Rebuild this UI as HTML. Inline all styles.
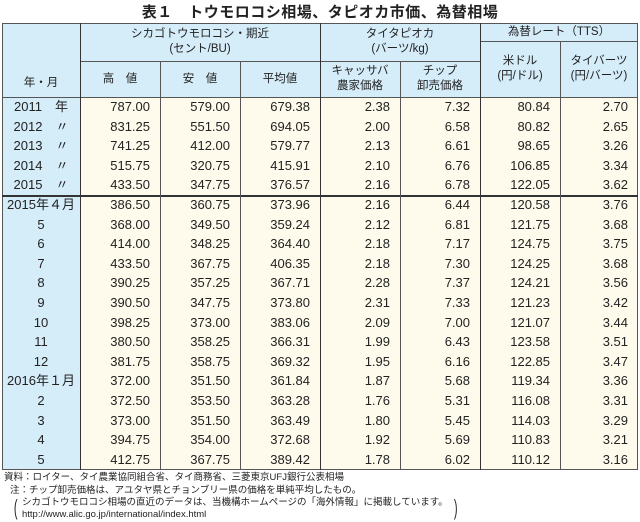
<!DOCTYPE html>
<html><head><meta charset="utf-8">
<style>
body{margin:0;width:640px;height:522px;background:#fff;position:relative;overflow:hidden;font-family:"Liberation Sans","Noto Sans CJK JP",sans-serif;color:#222}
.title{position:absolute;top:1px;left:0;width:640px;text-align:center;font-size:15px;font-weight:bold;letter-spacing:0.5px}
.a{position:absolute;box-sizing:border-box}
.hd{background:#d5ecf9;font-size:11.5px;line-height:15px;text-align:center;display:flex;align-items:center;justify-content:center;flex-direction:column}
.bd{background:#fffbec}
.ln{position:absolute;background:#555}
.c{position:absolute;font-size:13px;line-height:19.6px;height:19.6px;white-space:nowrap}
.foot{position:absolute;left:4px;font-size:9.5px;line-height:12px;white-space:nowrap}
</style></head><body>
<div class="title">表１　トウモロコシ相場、タピオカ市価、為替相場</div>
<div id="tbl">
<div class="a hd" style="left:2px;top:23px;width:636px;height:74px"></div>
<div class="a bd" style="left:80px;top:97px;width:558px;height:373px"></div>
<div class="a hd" style="left:2px;top:97px;width:78px;height:373px"></div>
<div class="a hd" style="left:2px;top:61px;width:78px;height:36px;justify-content:flex-end;padding-bottom:6px">年・月</div>
<div class="a hd" style="left:80px;top:23px;width:240px;height:38px">シカゴトウモロコシ・期近<br>(セント/BU)</div>
<div class="a hd" style="left:320px;top:23px;width:160px;height:38px">タイタピオカ<br>(バーツ/kg)</div>
<div class="a hd" style="left:480px;top:23px;width:158px;height:18px">為替レート（TTS）</div>
<div class="a hd" style="left:80px;top:61px;width:80px;height:36px">高　値</div>
<div class="a hd" style="left:160px;top:61px;width:80px;height:36px">安　値</div>
<div class="a hd" style="left:240px;top:61px;width:80px;height:36px">平均値</div>
<div class="a hd" style="left:320px;top:61px;width:80px;height:36px">キャッサバ<br>農家価格</div>
<div class="a hd" style="left:400px;top:61px;width:80px;height:36px">チップ<br>卸売価格</div>
<div class="a hd" style="left:480px;top:41px;width:80px;height:56px">米ドル<br>(円/ドル)</div>
<div class="a hd" style="left:560px;top:41px;width:78px;height:56px">タイバーツ<br>(円/バーツ)</div>
<!-- lines -->
<div class="ln" style="left:2px;top:23px;width:636px;height:1px"></div>
<div class="ln" style="left:2px;top:469px;width:636px;height:1px"></div>
<div class="ln" style="left:2px;top:23px;width:1px;height:447px"></div>
<div class="ln" style="left:637px;top:23px;width:1px;height:447px"></div>
<div class="ln" style="left:80px;top:61px;width:400px;height:1px"></div>
<div class="ln" style="left:480px;top:41px;width:158px;height:1px"></div>
<div class="ln" style="left:2px;top:97px;width:636px;height:1px"></div>
<div class="ln" style="left:2px;top:195px;width:636px;height:1.5px;background:#333"></div>
<div class="ln" style="left:79.5px;top:23px;width:1.5px;height:447px;background:#333"></div>
<div class="ln" style="left:319.5px;top:23px;width:1.5px;height:447px;background:#333"></div>
<div class="ln" style="left:479.5px;top:23px;width:1.5px;height:447px;background:#333"></div>
<div class="ln" style="left:160px;top:61px;width:1px;height:409px"></div>
<div class="ln" style="left:240px;top:61px;width:1px;height:409px"></div>
<div class="ln" style="left:400px;top:61px;width:1px;height:409px"></div>
<div class="ln" style="left:560px;top:41px;width:1px;height:429px"></div>
</div>
<div class="foot" style="top:472px">資料：ロイター、タイ農業協同組合省、タイ商務省、三菱東京UFJ銀行公表相場</div>
<div class="foot" style="top:485px;left:10px">注：チップ卸売価格は、アユタヤ県とチョンブリー県の価格を単純平均したもの。</div>
<div class="foot" style="top:497px;left:22px">シカゴトウモロコシ相場の直近のデータは、当機構ホームページの「海外情報」に掲載しています。</div>
<div class="foot" style="top:509px;left:22px">http://www.alic.go.jp/international/index.html</div>
<div class="foot" style="top:496px;left:12px;font-size:22px;line-height:24px;transform:scaleX(0.5)">(</div>
<div class="foot" style="top:496px;left:452px;font-size:22px;line-height:24px;transform:scaleX(0.5)">)</div>
<script>
const labels=["2011　年","2012　〃","2013　〃","2014　〃","2015　〃","2015年４月","5","6","7","8","9","10","11","12","2016年１月","2","3","4","5"];
const high=["787.00","831.25","741.25","515.75","433.50","386.50","368.00","414.00","433.50","390.25","390.50","398.25","380.50","381.75","372.00","372.50","373.00","394.75","412.75"];
const low=["579.00","551.50","412.00","320.75","347.75","360.75","349.50","348.25","367.75","357.25","347.75","373.00","358.25","358.75","351.50","353.50","351.50","354.00","367.75"];
const avg=["679.38","694.05","579.77","415.91","376.57","373.96","359.24","364.40","406.35","367.71","373.80","383.06","366.31","369.32","361.84","363.28","363.49","372.68","389.42"];
const cassava=["2.38","2.00","2.13","2.10","2.16","2.16","2.12","2.18","2.18","2.28","2.31","2.09","1.99","1.95","1.87","1.76","1.80","1.92","1.78"];
const chip=["7.32","6.58","6.61","6.76","6.78","6.44","6.81","7.17","7.30","7.37","7.33","7.00","6.43","6.16","5.68","5.31","5.45","5.69","6.02"];
const usd=["80.84","80.82","98.65","106.85","122.05","120.58","121.75","124.75","124.25","124.21","121.23","121.07","123.58","122.85","119.34","116.08","114.03","110.83","110.12"];
const baht=["2.70","2.65","3.26","3.34","3.62","3.76","3.68","3.75","3.68","3.56","3.42","3.44","3.51","3.47","3.36","3.31","3.29","3.21","3.16"];
const tbl=document.getElementById('tbl');
const rightEdges=[160,240,320,400,480,560,638];
labels.forEach((lab,i)=>{
  const y=97+i*19.6;
  const l=document.createElement('div');
  l.className='c';
  l.style.left='2px';l.style.width='78px';l.style.textAlign='center';l.style.top=y+'px';
  l.textContent=lab;
  
  
  tbl.appendChild(l);
  const vals=[high[i],low[i],avg[i],cassava[i],chip[i],usd[i],baht[i]];
  vals.forEach((v,j)=>{
    const d=document.createElement('div');
    d.className='c';
    d.style.top=y+'px';
    d.style.right=(640-rightEdges[j]+10)+'px';
    d.textContent=v;
    
    
    tbl.appendChild(d);
  });
});
</script>
</body></html>
